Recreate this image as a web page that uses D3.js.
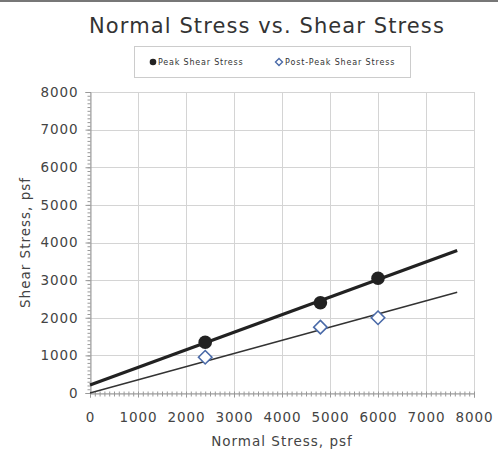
<!DOCTYPE html>
<html>
<head>
<meta charset="utf-8">
<script src="https://cdn.jsdelivr.net/npm/d3@7"></script>
<style>
  html, body { margin: 0; padding: 0; background: #fff; }
  svg { display: block; font-family: "DejaVu Sans", Verdana, sans-serif; }
</style>
</head>
<body>
<svg id="chart" width="498" height="454"></svg>
<script>
// Direct shear test results
const normalStress = [2400, 4800, 6000];
const peakShear = [1350, 2400, 3050];
const postPeakShear = [950, 1750, 2000];
const tickValues = [0, 1000, 2000, 3000, 4000, 5000, 6000, 7000, 8000];
const trendEnd = 7650;

const W = 498, H = 454;
const margin = { left: 90, right: 24, top: 92, bottom: 61 };
const svg = d3.select("#chart");

const x = d3.scaleLinear().domain([0, 8000]).range([margin.left, W - margin.right]);
const y = d3.scaleLinear().domain([0, 8000]).range([H - margin.bottom, margin.top]);

// frame edge along the top
svg.append("rect").attr("x", 0).attr("y", 0).attr("width", W).attr("height", 2).attr("fill", "#777");

// title
svg.append("text").attr("x", 267).attr("y", 33).attr("text-anchor", "middle")
  .attr("font-size", 21).attr("letter-spacing", 1.1).attr("fill", "#333")
  .text("Normal Stress vs. Shear Stress");

// legend
const lg = svg.append("g");
lg.append("rect").attr("x", 134.5).attr("y", 46.5).attr("width", 276).attr("height", 31)
  .attr("fill", "#fff").attr("stroke", "#ccc").attr("stroke-width", 1);
lg.append("circle").attr("cx", 153).attr("cy", 62).attr("r", 3.3).attr("fill", "#222");
lg.append("text").attr("x", 158).attr("y", 65).attr("font-size", 8).attr("letter-spacing", 0.8)
  .attr("fill", "#333").text("Peak Shear Stress");
lg.append("path").attr("d", "M279,58.5 L282.5,62 L279,65.5 L275.5,62 Z")
  .attr("fill", "#fff").attr("stroke", "#4a6aa8").attr("stroke-width", 1.4);
lg.append("text").attr("x", 285).attr("y", 65).attr("font-size", 8).attr("letter-spacing", 0.85)
  .attr("fill", "#333").text("Post-Peak Shear Stress");

// gridlines
const grid = svg.append("g").attr("stroke", "#d4d4d4").attr("stroke-width", 1);
tickValues.forEach(v => {
  grid.append("line").attr("x1", x(0)).attr("x2", x(8000))
    .attr("y1", Math.round(y(v)) + 0.5).attr("y2", Math.round(y(v)) + 0.5);
  grid.append("line").attr("y1", y(0)).attr("y2", y(8000))
    .attr("x1", Math.round(x(v)) + 0.5).attr("x2", Math.round(x(v)) + 0.5);
});

// axes with minor ticks
const minor = d3.range(0, 8001, 100);
const yAxisG = svg.append("g").attr("transform", `translate(${Math.round(x(0)) + 0.5},0)`);
yAxisG.call(d3.axisLeft(y).tickValues(minor).tickSize(3).tickFormat(""));
yAxisG.call(g => g.select(".domain").remove());
yAxisG.selectAll("line").attr("stroke", "#999");
const yAxisMajor = svg.append("g").attr("transform", `translate(${Math.round(x(0)) + 0.5},0)`)
  .call(d3.axisLeft(y).tickValues(tickValues).tickSize(5).tickPadding(7).tickFormat(d3.format("d")));
yAxisMajor.select(".domain").attr("stroke", "#999");
yAxisMajor.selectAll("line").attr("stroke", "#999");
yAxisMajor.selectAll("text").attr("font-size", 13.5).attr("letter-spacing", 0.9).attr("fill", "#444")
  .attr("font-family", "DejaVu Sans, Verdana, sans-serif");

const xAxisG = svg.append("g").attr("transform", `translate(0,${Math.round(y(0)) + 0.5})`);
xAxisG.call(d3.axisBottom(x).tickValues(minor).tickSize(3).tickFormat(""));
xAxisG.call(g => g.select(".domain").remove());
xAxisG.selectAll("line").attr("stroke", "#999").attr("y1", -2);
const xAxisMajor = svg.append("g").attr("transform", `translate(0,${Math.round(y(0)) + 0.5})`)
  .call(d3.axisBottom(x).tickValues(tickValues).tickSize(4).tickPadding(15).tickFormat(d3.format("d")));
xAxisMajor.select(".domain").attr("stroke", "#999");
xAxisMajor.selectAll("line").attr("stroke", "#999");
xAxisMajor.selectAll("text").attr("font-size", 13.5).attr("letter-spacing", 0.9).attr("fill", "#444")
  .attr("font-family", "DejaVu Sans, Verdana, sans-serif");

// axis titles
svg.append("text").attr("x", x(4000)).attr("y", 446).attr("text-anchor", "middle")
  .attr("font-size", 13.5).attr("letter-spacing", 1).attr("fill", "#444").text("Normal Stress, psf");
svg.append("text").attr("transform", `translate(30,${y(4000)}) rotate(-90)`).attr("text-anchor", "middle")
  .attr("font-size", 13.5).attr("letter-spacing", 1).attr("fill", "#444").text("Shear Stress, psf");

// linear trendlines: peak is a free fit, post-peak is forced through the origin
function fitFree(xs, ys) {
  const mx = d3.mean(xs), my = d3.mean(ys);
  const sxy = d3.sum(xs, (v, i) => (v - mx) * (ys[i] - my));
  const sxx = d3.sum(xs, v => (v - mx) * (v - mx));
  const m = sxy / sxx;
  return { m, b: my - m * mx };
}
function fitOrigin(xs, ys) {
  const m = d3.sum(xs, (v, i) => v * ys[i]) / d3.sum(xs, v => v * v);
  return { m, b: 0 };
}
const peakFit = fitFree(normalStress, peakShear);
const postFit = fitOrigin(normalStress, postPeakShear);
const line = d3.line().x(d => x(d[0])).y(d => y(d[1]));
const ends = [0, trendEnd];

svg.append("path").datum(ends.map(v => [v, postFit.m * v + postFit.b]))
  .attr("d", line).attr("fill", "none").attr("stroke", "#333").attr("stroke-width", 1.5);
svg.append("path").datum(ends.map(v => [v, peakFit.m * v + peakFit.b]))
  .attr("d", line).attr("fill", "none").attr("stroke", "#222").attr("stroke-width", 3.2);

// markers
svg.selectAll(".post").data(normalStress).enter().append("path").attr("class", "post")
  .attr("d", d3.symbol().type(d3.symbolDiamond2).size(115))
  .attr("transform", (d, i) => `translate(${x(d)},${y(postPeakShear[i])})`)
  .attr("fill", "#fff").attr("stroke", "#4a6aa8").attr("stroke-width", 1.6);
svg.selectAll(".peak").data(normalStress).enter().append("circle").attr("class", "peak")
  .attr("cx", d => x(d)).attr("cy", (d, i) => y(peakShear[i])).attr("r", 6.8).attr("fill", "#222");
</script>
</body>
</html>
